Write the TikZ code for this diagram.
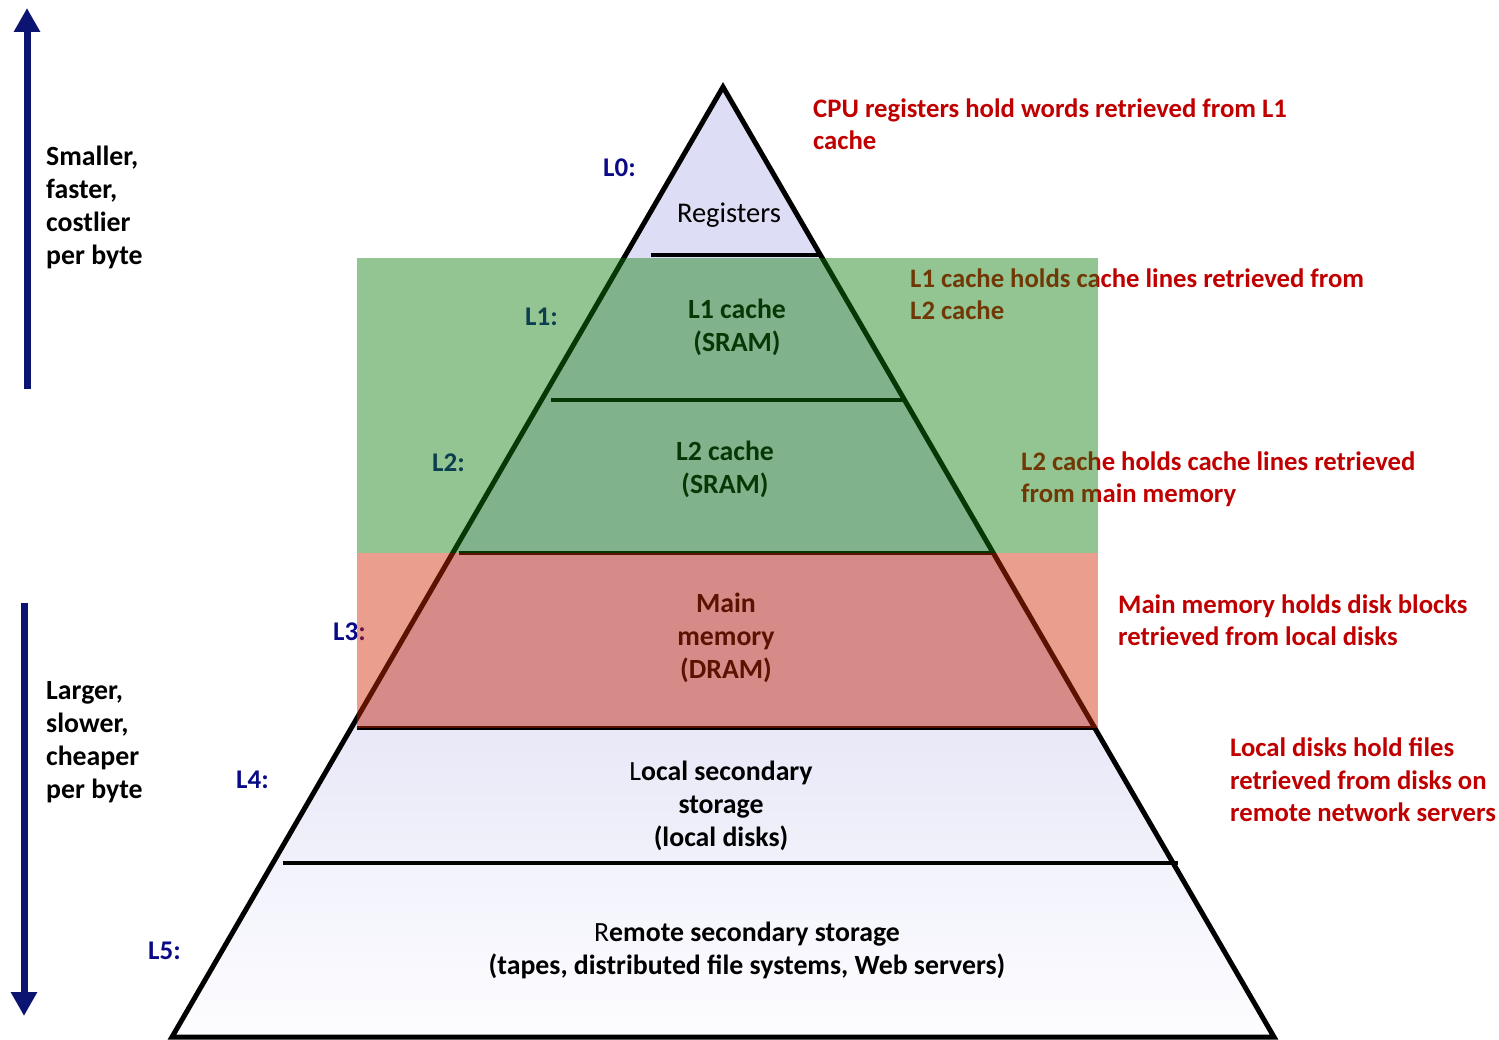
\documentclass[tikz,border=0pt]{standalone}
\usepackage{fontspec}
\setmainfont{Carlito}
\usetikzlibrary{arrows.meta,calc}
\definecolor{navyc}{HTML}{0B1470}
\definecolor{lblue}{HTML}{0A0A86}
\definecolor{redtxt}{HTML}{C00000}
\definecolor{greenov}{RGB}{15,126,13}
\definecolor{redov}{RGB}{207,40,4}
\definecolor{lav}{HTML}{DDDDF5}
\tikzset{
  txt/.style={font=\fontsize{27.8}{33}\selectfont\bfseries, inner sep=0pt, align=left},
  ctxt/.style={font=\fontsize{27.8}{33}\selectfont\bfseries, inner sep=0pt, align=center},
  lvl/.style={font=\fontsize{27}{33}\selectfont\bfseries, inner sep=0pt, text=lblue, anchor=west},
  note/.style={font=\fontsize{26.7}{32.3}\selectfont\bfseries, inner sep=0pt, align=left, text=redtxt, anchor=west},
  bigarrow/.style={navyc, line width=7pt, -{Triangle[width=25pt,length=24pt]}},
  sep/.style={line width=4.5pt},
}
\begin{document}
\begin{tikzpicture}[x=1pt,y=-1pt]
\useasboundingbox (0,0) rectangle (1499,1040);
% pyramid corners
\coordinate (A) at (723,87);
\coordinate (BL) at (172,1037);
\coordinate (BR) at (1274,1037);
\coordinate (L4t) at ($(A)!0.6747!(BL)$);
\coordinate (R4t) at ($(A)!0.6747!(BR)$);
\coordinate (L5t) at ($(A)!0.8168!(BL)$);
\coordinate (R5t) at ($(A)!0.8168!(BR)$);
% fills
\fill[lav] (A) -- (R4t) -- (L4t) -- cycle;
\shade[top color={rgb,255:red,232;green,232;blue,248}, bottom color={rgb,255:red,241;green,241;blue,251}] (L4t) -- (R4t) -- (R5t) -- (L5t) -- cycle;
\shade[top color={rgb,255:red,242;green,242;blue,252}, bottom color={rgb,255:red,253;green,253;blue,255}] (L5t) -- (R5t) -- (BR) -- (BL) -- cycle;
% outline
\draw[line width=5pt, line join=miter] (A) -- (BR) -- (BL) -- cycle;
% separators
\coordinate (s0a) at (651,255); \coordinate (s0b) at (820,255);
\coordinate (s1a) at (551,400); \coordinate (s1b) at (904,400);
\coordinate (s2a) at (459,553); \coordinate (s2b) at (993,553);
\coordinate (s3a) at (357,728); \coordinate (s3b) at (1097,728);
\coordinate (s4a) at (283,863); \coordinate (s4b) at (1178,863);
\draw[sep] (s0a) -- (s0b);
\draw[sep] (s1a) -- (s1b);
\draw[sep] (s2a) -- (s2b);
\draw[sep] (s3a) -- (s3b);
\draw[sep] (s4a) -- (s4b);
% side arrows
\coordinate (upS) at (27,389); \coordinate (upE) at (27,8);
\coordinate (dnS) at (24,603); \coordinate (dnE) at (24,1016);
\draw[bigarrow] (upS) -- (upE);
\draw[bigarrow] (dnS) -- (dnE);
\node[txt, anchor=west] (small) at (46,207) {Smaller,\\faster,\\costlier\\per byte};
\node[txt, anchor=west] (large) at (46,742) {Larger,\\slower,\\cheaper\\per byte};
% level labels
\node[lvl] (l0) at (603,168) {L0:};
\node[lvl] (l1) at (525,317) {L1:};
\node[lvl] (l2) at (432,463) {L2:};
\node[lvl] (l3) at (333,632) {L3:};
\node[lvl] (l4) at (236,780) {L4:};
\node[lvl] (l5) at (148,951) {L5:};
% level contents
\node[ctxt, font=\fontsize{28.5}{33}\selectfont\mdseries] (reg) at (729,215) {Registers};
\node[ctxt] (c1) at (737,327) {L1 cache\\(SRAM)};
\node[ctxt] (c2) at (725,469) {L2 cache\\(SRAM)};
\node[ctxt] (c3) at (726,638) {Main\\memory\\(DRAM)};
\node[ctxt] (c4) at (721,806) {{\mdseries L}ocal secondary\\storage\\(local disks)};
\node[ctxt] (c5) at (747,950) {{\mdseries R}emote secondary storage\\(tapes, distributed file systems, Web servers)};
% notes
\node[note] (n0) at (813,124) {CPU registers hold words retrieved from L1\\cache};
\node[note] (n1) at (910,294) {L1 cache holds cache lines retrieved from\\L2 cache};
\node[note] (n2) at (1021,479) {L2 cache holds cache lines retrieved\\from main memory};
\node[note] (n3) at (1118,620) {Main memory holds disk blocks\\retrieved from local disks};
\node[note] (n4) at (1230,780) {Local disks hold files\\retrieved from disks on\\remote network servers};
% translucent bands
\fill[greenov, opacity=0.45] (357,258) rectangle (1098,553);
\fill[redov, opacity=0.45] (357,553) rectangle (1098,728);
\end{tikzpicture}
\end{document}
